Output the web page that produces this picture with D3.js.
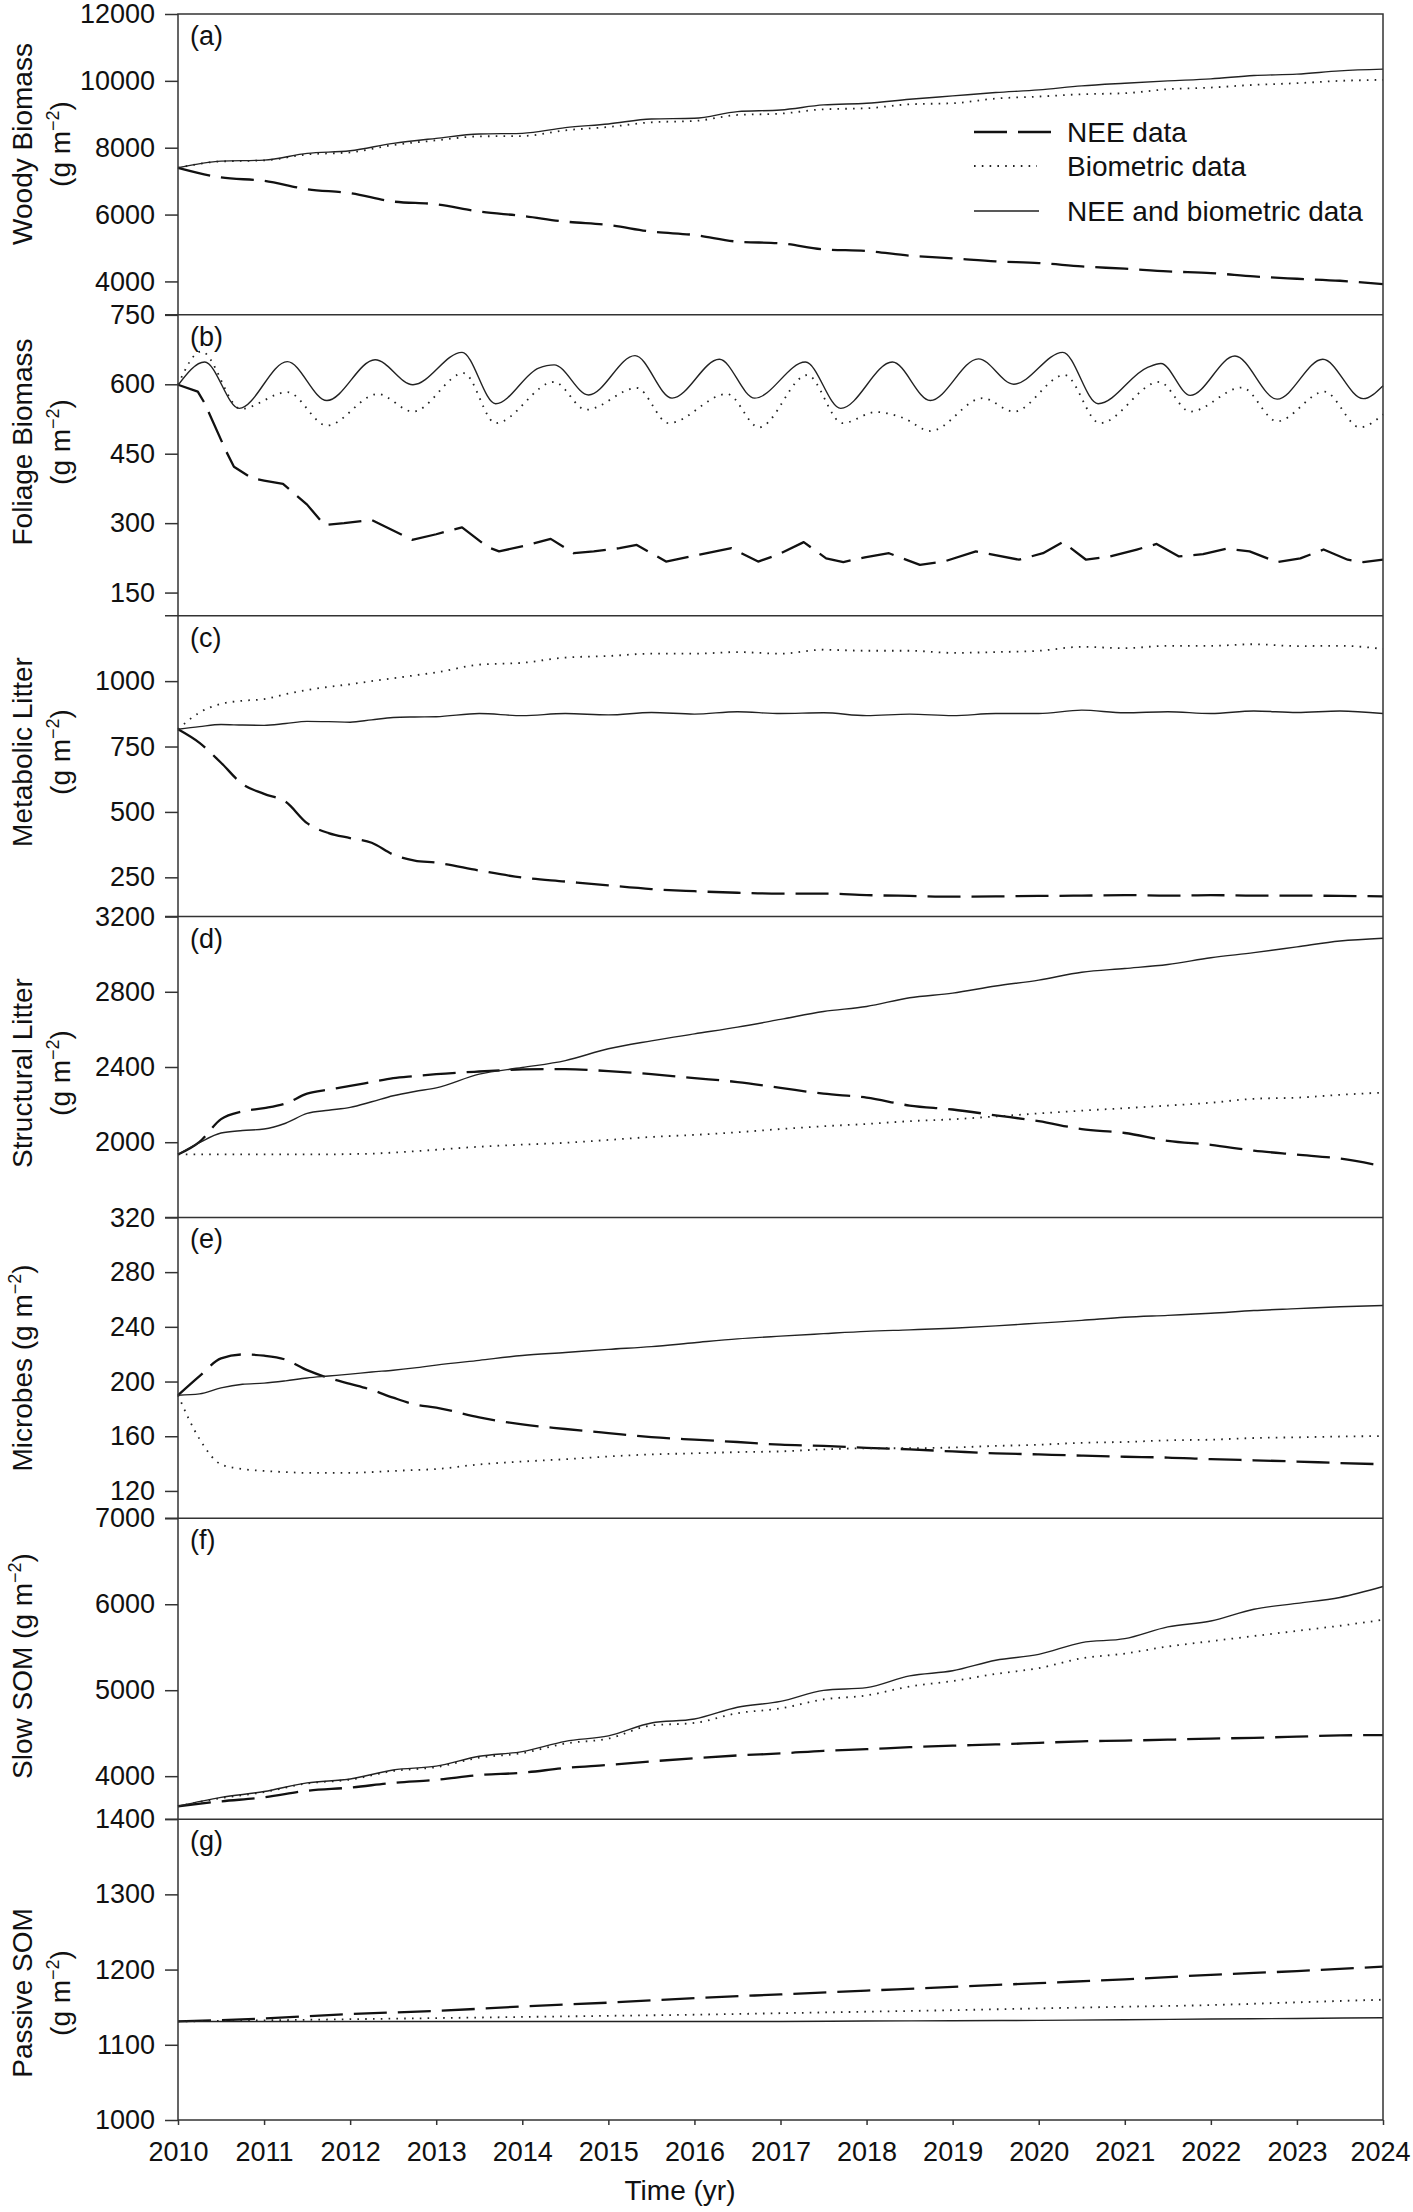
<!DOCTYPE html>
<html>
<head>
<meta charset="utf-8">
<script src="https://cdn.jsdelivr.net/npm/d3@7"></script>
<style>
  body { margin: 0; background: #fff; }
  svg { display: block; }
</style>
</head>
<body>
<div class="chart"></div>
<script>
// time grids (decimal years)
let tHalf = [2010, 2010.5, 2011, 2011.5, 2012, 2012.5, 2013, 2013.5, 2014, 2014.5, 2015, 2015.5, 2016, 2016.5, 2017,
  2017.5, 2018, 2018.5, 2019, 2019.5, 2020, 2020.5, 2021, 2021.5, 2022, 2022.5, 2023, 2023.5, 2024]
let tQuart = [2010, 2010.25, 2010.5, 2010.75, 2011, 2011.25, 2011.5, 2011.75, 2012, 2012.25, 2012.5, 2012.75, 2013,
  2013.5, 2014, 2014.5, 2015, 2015.5, 2016, 2016.5, 2017, 2017.5, 2018, 2018.5, 2019, 2019.5, 2020, 2020.5, 2021,
  2021.5, 2022, 2022.5, 2023, 2023.5, 2024]
let tYear = [2010, 2011, 2012, 2013, 2014, 2015, 2016, 2017, 2018, 2019, 2020, 2021, 2022, 2023, 2024]
let xTicks = tYear

// (a) woody biomass
let aNee = [7400, 7110, 7010, 6760, 6640, 6390, 6310, 6090, 5960, 5790, 5690, 5490, 5390, 5190, 5140, 4960, 4910,
  4770, 4690, 4600, 4550, 4450, 4380, 4300, 4250, 4150, 4080, 4020, 3920]
let aBio = [7400, 7590, 7620, 7800, 7860, 8080, 8220, 8340, 8350, 8520, 8620, 8760, 8800, 8980, 9020, 9150, 9180,
  9300, 9330, 9470, 9530, 9600, 9630, 9750, 9800, 9880, 9930, 10000, 10030]
let aBoth = [7400, 7600, 7630, 7830, 7910, 8130, 8280, 8410, 8430, 8600, 8710, 8860, 8880, 9080, 9130, 9280, 9330,
  9450, 9550, 9650, 9730, 9850, 9930, 10000, 10060, 10160, 10200, 10300, 10350]

// (b) foliage biomass, peaks and troughs
let bNeeT = [2010, 2010.23, 2010.31, 2010.56, 2010.65, 2010.86, 2011, 2011.22, 2011.5, 2011.7, 2011.93, 2012.25,
  2012.72, 2013, 2013.3, 2013.6, 2013.73, 2014.05, 2014.33, 2014.6, 2014.83, 2015.13, 2015.33, 2015.67, 2016.06,
  2016.43, 2016.74, 2016.97, 2017.27, 2017.53, 2017.73, 2017.98, 2018.26, 2018.62, 2018.9, 2019.27, 2019.77,
  2020.05, 2020.28, 2020.55, 2020.83, 2021.14, 2021.37, 2021.63, 2021.91, 2022.18, 2022.45, 2022.77, 2023.04,
  2023.31, 2023.59, 2023.77, 2024]
let bNee = [599, 584, 559, 455, 422, 397, 392, 385, 340, 296, 300, 307, 264, 276, 291, 248, 239, 252, 266, 235, 239,
  246, 253, 217, 232, 246, 217, 232, 259, 224, 216, 226, 235, 210, 217, 239, 221, 235, 259, 221, 228, 243, 255, 228,
  233, 245, 239, 216, 224, 243, 221, 216, 221]
let bBioT = [2010, 2010.27, 2010.73, 2011.27, 2011.73, 2012.32, 2012.73, 2013.32, 2013.69, 2014.37, 2014.74, 2015.33,
  2015.7, 2016.38, 2016.75, 2017.31, 2017.72, 2018.11, 2018.43, 2018.74, 2019.35, 2019.71, 2020.3, 2020.71, 2021.4,
  2021.76, 2022.36, 2022.77, 2023.32, 2023.73, 2024]
let bBio = [599, 671, 547, 583, 511, 579, 541, 624, 516, 605, 545, 592, 516, 579, 507, 620, 516, 540, 527, 499, 570,
  541, 620, 516, 605, 541, 593, 520, 584, 507, 535]
let bBothT = [2010, 2010.31, 2010.71, 2011.27, 2011.73, 2012.29, 2012.73, 2013.3, 2013.69, 2014.19, 2014.37, 2014.77,
  2015.31, 2015.74, 2016.29, 2016.7, 2017.29, 2017.7, 2018.3, 2018.74, 2019.3, 2019.71, 2020.28, 2020.69, 2021.26,
  2021.42, 2021.76, 2022.28, 2022.77, 2023.3, 2023.77, 2024]
let bBoth = [598, 648, 548, 649, 565, 653, 599, 669, 558, 635, 642, 577, 662, 570, 654, 570, 648, 548, 648, 565, 655,
  600, 669, 558, 636, 645, 576, 661, 568, 654, 569, 597]

// (c) metabolic litter
let cNee = [816, 764, 688, 606, 569, 539, 457, 419, 400, 382, 337, 314, 306, 276, 249, 234, 219, 205, 197, 191, 188,
  188, 182, 179, 176, 177, 179, 180, 182, 180, 182, 180, 180, 179, 177]
let cBio = [816, 880, 913, 925, 931, 950, 966, 978, 988, 1000, 1011, 1022, 1033, 1063, 1070, 1090, 1096, 1105, 1105,
  1111, 1105, 1120, 1116, 1116, 1108, 1111, 1116, 1131, 1126, 1135, 1135, 1141, 1134, 1135, 1123]
let cBoth = [816, 826, 834, 832, 831, 838, 846, 845, 843, 852, 861, 863, 864, 876, 868, 876, 871, 880, 874, 883, 876,
  879, 868, 874, 868, 876, 876, 889, 879, 883, 876, 886, 880, 886, 876]

// (d) structural litter
let dNee = [1935, 2002, 2123, 2164, 2181, 2206, 2258, 2280, 2299, 2320, 2341, 2352, 2362, 2376, 2387, 2389, 2378,
  2362, 2341, 2320, 2289, 2258, 2237, 2195, 2174, 2143, 2112, 2070, 2049, 2007, 1986, 1955, 1934, 1913, 1872]
let dBio = [1935, 1935, 1935, 1935, 1935, 1935, 1935, 1935, 1937, 1939, 1945, 1952, 1960, 1976, 1987, 1997, 2012,
  2028, 2039, 2053, 2070, 2085, 2097, 2112, 2122, 2137, 2153, 2168, 2181, 2195, 2210, 2231, 2237, 2252, 2264]
let dBoth = [1935, 1998, 2049, 2062, 2070, 2101, 2153, 2170, 2185, 2215, 2247, 2270, 2289, 2362, 2397, 2434, 2497,
  2539, 2576, 2612, 2653, 2695, 2722, 2768, 2793, 2831, 2862, 2904, 2924, 2945, 2981, 3008, 3039, 3070, 3085]

// (e) microbes
let eNee = [190, 204, 216.9, 219.8, 218.9, 216, 208.3, 202.6, 198.3, 193.9, 188.2, 183.3, 181, 173.8, 168.6, 165.3,
  162.3, 159.4, 157.5, 155.8, 153.8, 152.9, 151.5, 150.4, 148.9, 147.5, 146.7, 145.8, 145, 144.4, 143.2, 142.4,
  141.5, 140.4, 139.5]
let eBio = [190, 158, 139.4, 136, 134.6, 133.8, 133.2, 133.2, 133.2, 133.8, 134.6, 135.3, 136, 139.4, 141.5, 143.2,
  145.2, 146.7, 147.5, 148.4, 148.9, 150.4, 151.2, 151.2, 151.8, 152.9, 153.8, 155.2, 155.8, 157, 157.5, 158.7,
  159.2, 159.8, 160.1]
let eBoth = [190, 191, 195.4, 198, 198.8, 200.5, 202.6, 204, 205.4, 207, 208.3, 210, 212, 215.5, 219, 221.2, 223.5,
  225.5, 228.4, 231.2, 233.2, 235, 236.7, 237.8, 239, 240.7, 242.7, 244.7, 247, 248.4, 249.9, 251.9, 253.3, 254.7,
  255.6]

// (f) slow SOM
let fNee = [3650, 3707, 3753, 3830, 3867, 3922, 3958, 4013, 4040, 4095, 4131, 4172, 4209, 4241, 4264, 4295, 4314,
  4337, 4355, 4369, 4387, 4405, 4414, 4424, 4437, 4446, 4460, 4474, 4478]
let fBio = [3650, 3745, 3815, 3915, 3960, 4060, 4105, 4215, 4268, 4380, 4437, 4590, 4619, 4733, 4788, 4893, 4939,
  5043, 5107, 5189, 5257, 5371, 5426, 5508, 5570, 5630, 5690, 5750, 5819]
let fBoth = [3650, 3753, 3821, 3922, 3967, 4072, 4117, 4231, 4286, 4405, 4469, 4619, 4665, 4802, 4870, 4998, 5030,
  5167, 5226, 5349, 5417, 5554, 5600, 5737, 5805, 5942, 6010, 6079, 6206]

// (g) passive SOM
let gNee = [1131, 1135, 1141, 1145, 1151, 1156, 1162, 1167, 1172, 1177, 1182, 1187, 1193, 1198, 1204]
let gBio = [1131, 1132.5, 1134, 1135.5, 1137, 1138.5, 1140, 1142, 1144, 1146, 1148.4, 1150.6, 1152.8, 1156.4, 1160]
let gBoth = [1131, 1131, 1131, 1131, 1131, 1131, 1131, 1131, 1131.6, 1132, 1132.5, 1133.3, 1134.2, 1135, 1136]

// axes
let yDomains = [[3000, 12000], [100, 750], [100, 1250], [1600, 3200], [100, 320], [3500, 7000], [1000, 1400]]
let yTicks = [
  [4000, 6000, 8000, 10000, 12000],
  [150, 300, 450, 600, 750],
  [250, 500, 750, 1000],
  [2000, 2400, 2800, 3200],
  [120, 160, 200, 240, 280, 320],
  [4000, 5000, 6000, 7000],
  [1000, 1100, 1200, 1300, 1400]
]
let panelIds = ["(a)", "(b)", "(c)", "(d)", "(e)", "(f)", "(g)"]
let yTitles = [
  ["Woody Biomass", "(g m"],
  ["Foliage Biomass", "(g m"],
  ["Metabolic Litter", "(g m"],
  ["Structural Litter", "(g m"],
  ["Microbes (g m"],
  ["Slow SOM (g m"],
  ["Passive SOM", "(g m"]
]
let legendNames = ["NEE data", "Biometric data", "NEE and biometric data"]

let font = "'Liberation Sans', Arial, Helvetica, sans-serif"
let width = 1413, height = 2212
let plotLeft = 178, plotRight = 1383, plotTop = 14, plotBottom = 2120
let ph = (plotBottom - plotTop) / 7
let titleY = [144, 442, 752, 1073, 1368, 1666, 1993]

let styles = {
  nee: { dash: "33,11", w: 2.3, color: "#111" },
  bio: { dash: "1.6,6.2", w: 1.8, color: "#222" },
  both: { dash: null, w: 1.4, color: "#222" }
}

let series = [
  [[tHalf, aNee, "nee"], [tHalf, aBio, "bio"], [tHalf, aBoth, "both"]],
  [[bNeeT, bNee, "nee"], [bBioT, bBio, "bio"], [bBothT, bBoth, "both"]],
  [[tQuart, cNee, "nee"], [tQuart, cBio, "bio"], [tQuart, cBoth, "both"]],
  [[tQuart, dNee, "nee"], [tQuart, dBio, "bio"], [tQuart, dBoth, "both"]],
  [[tQuart, eNee, "nee"], [tQuart, eBio, "bio"], [tQuart, eBoth, "both"]],
  [[tHalf, fNee, "nee"], [tHalf, fBio, "bio"], [tHalf, fBoth, "both"]],
  [[tYear, gNee, "nee"], [tYear, gBio, "bio"], [tYear, gBoth, "both"]]
]

let svg = d3.select(".chart")
  .append("svg")
  .attr("width", width)
  .attr("height", height)
  .attr("font-family", font)

let x = d3.scaleLinear().domain([2010, 2024]).range([plotLeft, plotRight])

series.forEach((list, i) => {
  let y0 = plotTop + i * ph
  let y = d3.scaleLinear().domain(yDomains[i]).range([y0 + ph, y0])

  let g = svg.append("g")
  list.forEach((s) => {
    let st = styles[s[2]]
    // the NEE foliage line is jagged, everything else is smooth
    let line = d3.line()
      .x((d) => x(d[0]))
      .y((d) => y(d[1]))
      .curve(i == 1 && s[2] == "nee" ? d3.curveLinear : d3.curveMonotoneX)
    g.append("path")
      .datum(d3.zip(s[0], s[1]))
      .attr("d", line)
      .attr("fill", "none")
      .attr("stroke", st.color)
      .attr("stroke-width", st.w)
      .attr("stroke-dasharray", st.dash)
      .attr("stroke-linejoin", "round")
  })

  let ax = svg.append("g")
    .attr("transform", `translate(${plotLeft},0)`)
    .call(d3.axisLeft(y).tickValues(yTicks[i]).tickFormat(d3.format("d")).tickSize(13).tickPadding(10))
    .attr("font-family", font)
    .attr("font-size", 27)
  ax.select(".domain").remove()
  ax.selectAll(".tick line").attr("stroke", "#333").attr("stroke-width", 1.5)
  ax.selectAll(".tick text").attr("fill", "#111")

  // panel letter
  svg.append("text")
    .attr("x", 190)
    .attr("y", y0 + 31)
    .attr("font-size", 27)
    .attr("fill", "#111")
    .text(panelIds[i])

  // rotated y title with superscript
  let lines = yTitles[i]
  lines.forEach((txt, k) => {
    let cx = 22 + k * 38
    let t = svg.append("text")
      .attr("transform", `translate(${cx},${titleY[i]}) rotate(-90)`)
      .attr("text-anchor", "middle")
      .attr("dy", "0.36em")
      .attr("font-size", 28)
      .attr("fill", "#111")
    t.append("tspan").text(txt)
    if (txt.endsWith("(g m")) {
      t.append("tspan").attr("font-size", 18).attr("dy", -11).text("\u22122")
      t.append("tspan").attr("dy", 11).text(")")
    }
  })

  if (i > 0) {
    svg.append("line")
      .attr("x1", plotLeft - 13).attr("x2", plotRight)
      .attr("y1", y0).attr("y2", y0)
      .attr("stroke", "#333")
      .attr("stroke-width", 1.5)
  }
})

// outer frame
svg.append("rect")
  .attr("x", plotLeft)
  .attr("y", plotTop)
  .attr("width", plotRight - plotLeft)
  .attr("height", plotBottom - plotTop)
  .attr("fill", "none")
  .attr("stroke", "#333")
  .attr("stroke-width", 1.5)

// time axis
let xa = svg.append("g")
  .attr("transform", `translate(0,${plotBottom})`)
  .call(d3.axisBottom(x).tickValues(xTicks).tickFormat(d3.format("d")).tickSize(5).tickPadding(17))
  .attr("font-family", font)
  .attr("font-size", 27)
xa.select(".domain").remove()
xa.selectAll(".tick line").attr("stroke", "#333").attr("stroke-width", 1.5)
xa.selectAll(".tick text").attr("fill", "#111")
// keep the last year inside the page
xa.selectAll(".tick text").filter((d) => d == 2024).attr("dx", -3)

svg.append("text")
  .attr("x", 680)
  .attr("y", 2200)
  .attr("text-anchor", "middle")
  .attr("font-size", 28)
  .attr("fill", "#111")
  .text("Time (yr)")

// legend in panel (a)
let legendKeys = ["nee", "bio", "both"]
let legendY = [132, 166, 211]
let legendLen = [82, 63, 65]
let legend = svg.append("g")
legendKeys.forEach((k, i) => {
  let st = styles[k]
  legend.append("line")
    .attr("x1", 974).attr("x2", 974 + legendLen[i])
    .attr("y1", legendY[i]).attr("y2", legendY[i])
    .attr("stroke", st.color)
    .attr("stroke-width", st.w)
    .attr("stroke-dasharray", st.dash)
  legend.append("text")
    .attr("x", 1067)
    .attr("y", legendY[i] + 10)
    .attr("font-size", 28)
    .attr("fill", "#111")
    .text(legendNames[i])
})
</script>
</body>
</html>
